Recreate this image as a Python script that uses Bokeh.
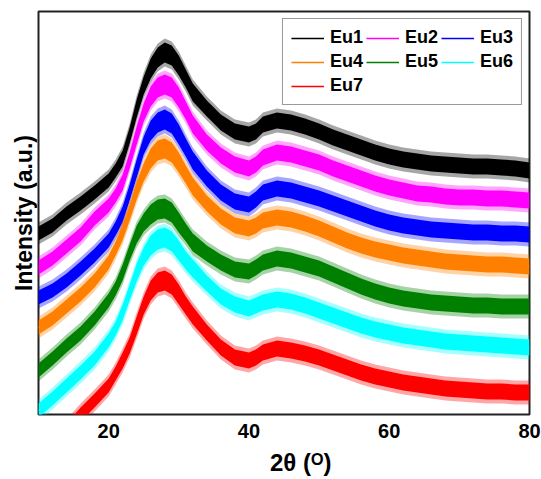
from bokeh.plotting import figure
from bokeh.models import ColumnDataSource, FixedTicker, Legend, LegendItem, Range1d
from bokeh.embed import file_html
from bokeh.resources import INLINE

two_theta = [10, 12, 14, 16, 18, 20, 21, 22, 23, 24, 25, 26, 27, 28, 29, 30, 31, 32, 34, 36, 38, 40,
             41, 42, 44, 46, 48, 50, 52, 54, 56, 58, 60, 62, 64, 66, 68, 70, 72, 74, 76, 78, 80]

eu1 = [181, 189, 201, 211, 222, 234, 244, 256, 279, 306, 329, 346, 357, 362, 359, 349, 336, 322, 306, 292, 283, 280,
       283, 290, 294, 292, 288, 283, 277, 272, 267, 262, 258, 255, 253, 251, 250, 249, 248, 248, 247, 246, 244]
eu2 = [147, 156, 168, 180, 196, 209, 219, 232, 254, 279, 302, 318, 327, 330, 327, 317, 304, 290, 272, 259, 250, 246,
       250, 257, 262, 260, 256, 252, 246, 241, 236, 231, 227, 224, 221, 220, 218, 217, 217, 216, 216, 215, 214]
eu3 = [117, 124, 134, 146, 159, 174, 186, 200, 222, 246, 269, 284, 292, 295, 291, 280, 267, 254, 236, 222, 213, 210,
       215, 222, 226, 224, 220, 216, 211, 206, 201, 196, 192, 189, 187, 185, 184, 183, 182, 182, 181, 181, 180]
eu4 = [87, 96, 108, 120, 134, 152, 166, 182, 202, 224, 242, 256, 264, 266, 262, 252, 240, 228, 211, 198, 189, 186,
       189, 194, 197, 195, 191, 186, 180, 174, 169, 165, 162, 159, 157, 155, 153, 152, 151, 150, 150, 149, 148]
eu5 = [44, 56, 69, 81, 96, 114, 126, 142, 162, 180, 192, 200, 205, 206, 202, 192, 182, 172, 161, 152, 145, 143,
       147, 152, 156, 154, 150, 146, 140, 134, 128, 123, 119, 116, 114, 112, 111, 110, 109, 109, 108, 108, 108]
eu6 = [4, 16, 29, 42, 56, 74, 86, 102, 122, 142, 158, 169, 175, 177, 173, 164, 154, 146, 131, 118, 110, 106,
       109, 112, 115, 113, 109, 104, 99, 94, 89, 85, 82, 79, 77, 75, 73, 72, 71, 70, 69, 68, 67]
eu7 = [-46, -31, -16, 0, 14, 29, 41, 54, 69, 89, 109, 124, 132, 134, 130, 120, 109, 99, 82, 67, 57, 54,
       57, 62, 66, 64, 61, 57, 52, 47, 42, 38, 35, 32, 30, 28, 26, 25, 24, 23, 23, 22, 22]
noise = [7, 7, 7, 7, 7, 7, 7, 8, 8, 9, 9, 10, 10, 10, 10, 10, 9, 9, 8, 8, 8, 8,
         8, 8, 8, 8, 8, 8, 8, 8, 8, 8, 8, 8, 8, 8, 8, 8, 8, 8, 8, 8, 8]
spike = [4] * len(two_theta)

names = ["Eu1", "Eu2", "Eu3", "Eu4", "Eu5", "Eu6", "Eu7"]
series = [eu1, eu2, eu3, eu4, eu5, eu6, eu7]
colors = ["#000000", "#ff00ff", "#0000ff", "#ff8000", "#008000", "#00ffff", "#ff0000"]
x_ticks = [20, 40, 60, 80]

p = figure(width=541, height=479, output_backend="svg", toolbar_location=None,
           x_range=Range1d(10, 80), y_range=Range1d(0, 403),
           min_border_left=38, min_border_right=12, min_border_top=11, min_border_bottom=65)
p.grid.visible = False
p.outline_line_color = "#222222"
p.outline_line_width = 2
p.background_fill_color = "white"
p.border_fill_color = "white"

items = []
for name, ys, col in zip(names, series, colors):
    src = ColumnDataSource(dict(
        x=two_theta, y=ys,
        lo=[v - n for v, n in zip(ys, noise)], hi=[v + n for v, n in zip(ys, noise)],
        lo2=[v - n - s for v, n, s in zip(ys, noise, spike)], hi2=[v + n + s for v, n, s in zip(ys, noise, spike)],
    ))
    p.varea(x="x", y1="lo2", y2="hi2", source=src, fill_color=col, fill_alpha=0.35)
    p.varea(x="x", y1="lo", y2="hi", source=src, fill_color=col, fill_alpha=1.0)
    r = p.line(x="x", y="y", source=src, line_color=col, line_width=1.5)
    items.append(LegendItem(label=name, renderers=[r]))

legend = Legend(items=items, location="top_right", orientation="horizontal", ncols=3)
legend.label_text_font = "Liberation Sans"
legend.label_text_font_style = "bold"
legend.label_text_font_size = "18px"
legend.label_text_color = "black"
legend.glyph_width = 33
legend.glyph_height = 16
legend.label_height = 16
legend.label_standoff = 6
legend.spacing = 3
legend.padding = 8
legend.margin = 7
legend.border_line_color = "#333333"
legend.border_line_width = 1.5
legend.background_fill_alpha = 1.0
p.add_layout(legend)

font = "Liberation Sans"
ax = p.xaxis[0]
ax.ticker = FixedTicker(ticks=x_ticks)
ax.axis_line_color = None
ax.major_tick_line_color = None
ax.minor_tick_line_color = None
ax.major_tick_out = 0
ax.major_tick_in = 0
ax.major_label_standoff = 9
ax.major_label_text_font = font
ax.major_label_text_font_style = "bold"
ax.major_label_text_font_size = "20px"
ax.major_label_text_color = "black"
ax.axis_label = "\u00a0\u00a0\u00a0\u00a0\u00a02θ (ᴼ)"
ax.axis_label_standoff = 8
ax.axis_label_text_font = font
ax.axis_label_text_font_style = "bold"
ax.axis_label_text_font_size = "24px"
ax.axis_label_text_color = "black"

yax = p.yaxis[0]
yax.ticker = FixedTicker(ticks=[])
yax.axis_line_color = None
yax.major_tick_line_color = None
yax.minor_tick_line_color = None
yax.major_tick_out = 0
yax.major_tick_in = 0
yax.axis_label = "Intensity (a.u.)"
yax.axis_label_standoff = 2
yax.axis_label_text_font = font
yax.axis_label_text_font_style = "bold"
yax.axis_label_text_font_size = "23px"
yax.axis_label_text_color = "black"

open("out.html", "w").write(file_html(p, INLINE))
